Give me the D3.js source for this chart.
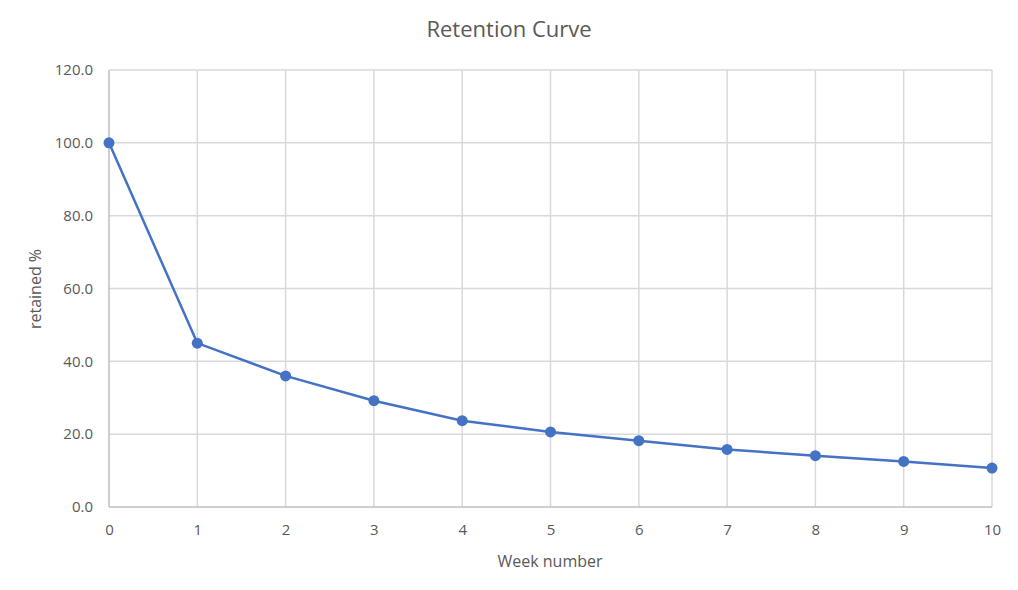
<!DOCTYPE html>
<html><head><meta charset="utf-8">
<script src="https://cdn.jsdelivr.net/npm/d3@7"></script>
<style>body{margin:0;background:#fff;font-family:"Open Sans",Lato,sans-serif;}</style>
</head><body>
<svg id="c" width="1018" height="590"></svg>
<script>
const weeks = [0,1,2,3,4,5,6,7,8,9,10];
const retained = [100,45,36,29.2,23.7,20.6,18.2,15.8,14.1,12.5,10.7];
const yTicks = [0,20,40,60,80,100,120];

const svg = d3.select("#c");
const L=109,R=992,T=70,B=507;
const x = d3.scaleLinear().domain([0,10]).range([L,R]);
const y = d3.scaleLinear().domain([0,120]).range([B,T]);
const txt="#595959";

svg.append("text").attr("x",509).attr("y",37).attr("text-anchor","middle")
  .attr("font-size",22).attr("fill",txt).text("Retention Curve");

// gridlines
svg.append("g").selectAll("line").data(yTicks.filter(d=>d>0)).join("line")
  .attr("x1",L).attr("x2",R).attr("y1",d=>y(d)).attr("y2",d=>y(d))
  .attr("stroke","#d9d9d9").attr("stroke-width",1.5);
svg.append("g").selectAll("line").data(weeks.filter(d=>d>0)).join("line")
  .attr("x1",d=>x(d)).attr("x2",d=>x(d)).attr("y1",T).attr("y2",B)
  .attr("stroke","#d9d9d9").attr("stroke-width",1.5);
// axes
svg.append("line").attr("x1",L).attr("x2",L).attr("y1",T).attr("y2",B).attr("stroke","#bfbfbf").attr("stroke-width",1.5);
svg.append("line").attr("x1",L).attr("x2",R).attr("y1",B).attr("y2",B).attr("stroke","#bfbfbf").attr("stroke-width",1.5);

const ya = svg.append("g").attr("transform",`translate(${L},0)`)
  .call(d3.axisLeft(y).tickValues(yTicks).tickFormat(d3.format(".1f")).tickSize(0).tickPadding(16));
ya.select(".domain").remove();
ya.selectAll("text").attr("font-size",15).attr("fill",txt).attr("font-family","'Open Sans',sans-serif");

const xa = svg.append("g").attr("transform",`translate(0,${B})`)
  .call(d3.axisBottom(x).tickValues(weeks).tickFormat(d3.format("d")).tickSize(0).tickPadding(17));
xa.select(".domain").remove();
xa.selectAll("text").attr("font-size",15).attr("fill",txt).attr("font-family","'Open Sans',sans-serif");

svg.append("text").attr("x",550).attr("y",567).attr("text-anchor","middle")
  .attr("font-size",16).attr("fill",txt).text("Week number");
svg.append("text").attr("transform","translate(41,289) rotate(-90)").attr("text-anchor","middle")
  .attr("font-size",16).attr("fill",txt).text("retained %");

const data = weeks.map((w,i)=>({w,v:retained[i]}));
svg.append("path").datum(data).attr("fill","none").attr("stroke","#4472C4").attr("stroke-width",2.5)
  .attr("d",d3.line().x(d=>x(d.w)).y(d=>y(d.v)));
svg.append("g").selectAll("circle").data(data).join("circle")
  .attr("cx",d=>x(d.w)).attr("cy",d=>y(d.v)).attr("r",5.5).attr("fill","#4472C4");
</script>
</body></html>
